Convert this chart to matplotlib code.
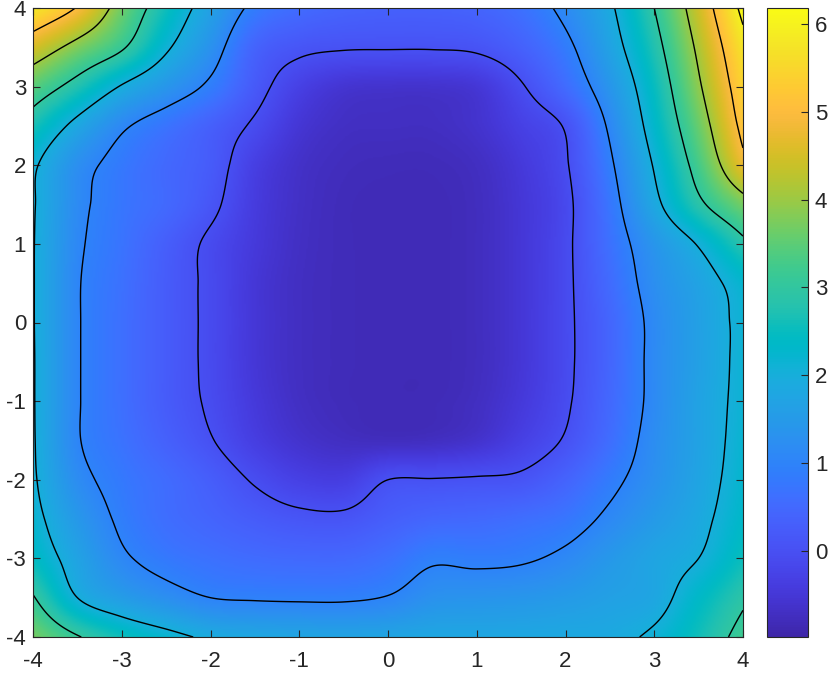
import numpy as np
import matplotlib
matplotlib.use("Agg")
import matplotlib.pyplot as plt
from matplotlib.colors import LinearSegmentedColormap

plt.rcParams['font.family'] = ['Liberation Sans', 'DejaVu Sans']
plt.rcParams['axes.unicode_minus'] = False

# ---- data ----
x_vals = [-4, -3.5, -3, -2.5, -2, -1.5, -1, -0.5, 0, 0.5, 1, 1.5, 2, 2.5, 3, 3.5, 4]
y_vals = [-4, -3.5, -3, -2.5, -2, -1.5, -1, -0.5, 0, 0.5, 1, 1.5, 2, 2.5, 3, 3.5, 4]

z_ym40 = [3.7, 3.05, 2.55, 2.2, 1.9, 1.8, 1.75, 1.72, 1.75, 1.8, 1.8, 1.82, 1.85, 1.88, 2.1, 2.6, 3.2]
z_ym35 = [3.05, 2.0, 1.55, 1.25, 1.0, 0.95, 0.93, 0.93, 1.03, 1.3, 1.35, 1.4, 1.5, 1.65, 1.8, 2.35, 2.9]
z_ym30 = [2.45, 1.7, 1.1, 0.8, 0.65, 0.55, 0.5, 0.5, 0.65, 0.92, 0.88, 0.93, 1.12, 1.45, 1.75, 2.0, 2.55]
z_ym25 = [2.2, 1.45, 0.9, 0.6, 0.42, 0.25, 0.12, 0.1, 0.3, 0.45, 0.5, 0.6, 0.75, 1.12, 1.5, 1.85, 2.35]
z_ym20 = [2.08, 1.2, 0.8, 0.55, 0.28, -0.05, -0.3, -0.35, 0.0, 0.02, 0.05, 0.1, 0.4, 0.85, 1.3, 1.75, 2.25]
z_ym15 = [2.05, 1.05, 0.68, 0.35, 0.03, -0.35, -0.6, -0.72, -0.75, -0.72, -0.6, -0.3, 0.05, 0.6, 1.22, 1.7, 2.2]
z_ym10 = [2.04, 1.05, 0.62, 0.25, -0.07, -0.45, -0.7, -0.8, -0.83, -0.82, -0.72, -0.45, -0.07, 0.5, 1.15, 1.7, 2.15]
z_ym05 = [2.04, 1.05, 0.62, 0.25, -0.1, -0.5, -0.72, -0.8, -0.83, -0.83, -0.75, -0.5, -0.1, 0.45, 1.15, 1.65, 2.15]
z_y00 = [2.03, 1.05, 0.62, 0.25, -0.1, -0.5, -0.72, -0.8, -0.83, -0.83, -0.75, -0.5, -0.1, 0.45, 1.15, 1.65, 2.15]
z_y05 = [2.03, 1.05, 0.65, 0.25, -0.1, -0.5, -0.72, -0.8, -0.83, -0.83, -0.75, -0.5, -0.1, 0.55, 1.25, 1.72, 2.25]
z_y10 = [2.03, 1.1, 0.7, 0.3, -0.09, -0.45, -0.7, -0.8, -0.83, -0.83, -0.75, -0.5, -0.1, 0.65, 1.4, 2.05, 2.85]
z_y15 = [2.05, 1.16, 0.75, 0.5, 0.12, -0.4, -0.68, -0.8, -0.83, -0.83, -0.75, -0.5, -0.12, 0.75, 1.82, 2.85, 3.7]
z_y20 = [2.1, 1.25, 0.8, 0.5, 0.23, -0.33, -0.65, -0.77, -0.8, -0.8, -0.72, -0.45, -0.05, 0.9, 2.05, 3.28, 4.75]
z_y25 = [2.65, 1.8, 1.1, 0.7, 0.33, -0.08, -0.52, -0.7, -0.72, -0.72, -0.6, -0.3, 0.05, 1.1, 2.3, 3.6, 5.2]
z_y30 = [3.45, 2.73, 1.95, 1.4, 0.88, 0.2, -0.3, -0.55, -0.6, -0.6, -0.5, -0.05, 0.55, 1.4, 2.5, 3.9, 5.45]
z_y35 = [4.5, 3.75, 3.08, 2.1, 1.3, 0.4, 0.12, 0.04, 0.03, 0.03, 0.08, 0.35, 0.85, 1.7, 2.75, 4.15, 5.75]
z_y40 = [5.8, 4.95, 3.65, 2.55, 1.65, 0.85, 0.55, 0.4, 0.35, 0.35, 0.42, 0.65, 1.17, 1.9, 3.0, 4.45, 6.2]

contour_levels = [0, 1, 2, 3, 4, 5, 6]
tick_vals = [-4, -3, -2, -1, 0, 1, 2, 3, 4]
cbar_ticks = [0, 1, 2, 3, 4, 5, 6]
clim = (-0.98, 6.18)

# ---- parula colormap ----
parula_data = [
    [0.2422, 0.1504, 0.6603], [0.2504, 0.1650, 0.7076], [0.2578, 0.1818, 0.7511],
    [0.2647, 0.1978, 0.7952], [0.2706, 0.2147, 0.8364], [0.2751, 0.2342, 0.8710],
    [0.2783, 0.2559, 0.8991], [0.2803, 0.2782, 0.9221], [0.2813, 0.3006, 0.9414],
    [0.2810, 0.3228, 0.9579], [0.2795, 0.3447, 0.9717], [0.2760, 0.3667, 0.9829],
    [0.2699, 0.3892, 0.9906], [0.2602, 0.4123, 0.9952], [0.2440, 0.4358, 0.9988],
    [0.2206, 0.4603, 0.9973], [0.1963, 0.4847, 0.9892], [0.1834, 0.5074, 0.9798],
    [0.1786, 0.5289, 0.9682], [0.1764, 0.5499, 0.9520], [0.1687, 0.5703, 0.9359],
    [0.1540, 0.5902, 0.9218], [0.1460, 0.6091, 0.9079], [0.1380, 0.6276, 0.8973],
    [0.1248, 0.6459, 0.8883], [0.1113, 0.6635, 0.8763], [0.0952, 0.6798, 0.8598],
    [0.0689, 0.6948, 0.8394], [0.0297, 0.7082, 0.8163], [0.0036, 0.7203, 0.7917],
    [0.0067, 0.7312, 0.7660], [0.0433, 0.7411, 0.7394], [0.0964, 0.7500, 0.7120],
    [0.1408, 0.7584, 0.6842], [0.1717, 0.7670, 0.6554], [0.1938, 0.7758, 0.6251],
    [0.2161, 0.7843, 0.5923], [0.2470, 0.7918, 0.5567], [0.2906, 0.7973, 0.5188],
    [0.3406, 0.8008, 0.4789], [0.3909, 0.8029, 0.4354], [0.4456, 0.8024, 0.3909],
    [0.5044, 0.7993, 0.3480], [0.5616, 0.7942, 0.3045], [0.6174, 0.7876, 0.2612],
    [0.6720, 0.7793, 0.2227], [0.7242, 0.7698, 0.1910], [0.7738, 0.7598, 0.1646],
    [0.8203, 0.7498, 0.1535], [0.8634, 0.7406, 0.1596], [0.9035, 0.7330, 0.1774],
    [0.9393, 0.7288, 0.2100], [0.9728, 0.7298, 0.2394], [0.9956, 0.7434, 0.2371],
    [0.9970, 0.7659, 0.2199], [0.9952, 0.7893, 0.2028], [0.9892, 0.8136, 0.1885],
    [0.9786, 0.8386, 0.1766], [0.9676, 0.8639, 0.1643], [0.9610, 0.8890, 0.1537],
    [0.9597, 0.9135, 0.1423], [0.9628, 0.9373, 0.1265], [0.9691, 0.9606, 0.1064],
    [0.9769, 0.9839, 0.0805]]
parula = LinearSegmentedColormap.from_list('parula', parula_data, N=256)

Z = np.array([z_ym40, z_ym35, z_ym30, z_ym25, z_ym20, z_ym15, z_ym10, z_ym05, z_y00,
              z_y05, z_y10, z_y15, z_y20, z_y25, z_y30, z_y35, z_y40])


def cubic_resample_matrix(coarse, fine):
    """Catmull-Rom resampling weights (display smoothing of the grid)."""
    coarse = np.asarray(coarse, float)
    n = len(coarse)
    h = coarse[1] - coarse[0]
    W = np.zeros((len(fine), n))
    for k, t in enumerate(fine):
        u = (t - coarse[0]) / h
        i = min(int(np.floor(u)), n - 2)
        s = u - i
        w = [(-s**3 + 2*s**2 - s) / 2, (3*s**3 - 5*s**2 + 2) / 2,
             (-3*s**3 + 4*s**2 + s) / 2, (s**3 - s**2) / 2]
        for off, wt in zip((-1, 0, 1, 2), w):
            idx = i + off
            if idx < 0:
                W[k, 0] += 2 * wt
                W[k, 1] -= wt
            elif idx > n - 1:
                W[k, n - 1] += 2 * wt
                W[k, n - 2] -= wt
            else:
                W[k, idx] += wt
    return W


xf = np.linspace(min(x_vals), max(x_vals), 481)
yf = np.linspace(min(y_vals), max(y_vals), 481)
Wx = cubic_resample_matrix(x_vals, xf)
Wy = cubic_resample_matrix(y_vals, yf)
ZF = Wy @ Z @ Wx.T
XF, YF = np.meshgrid(xf, yf)

fig = plt.figure(figsize=(8.30, 6.74), dpi=100)
ax = fig.add_axes([33/830, 37/674, 710/830, 629/674])
cax = fig.add_axes([767/830, 37/674, 41/830, 629/674])

im = ax.imshow(ZF, extent=[xf[0], xf[-1], yf[0], yf[-1]], origin='lower',
               cmap=parula, vmin=clim[0], vmax=clim[1], interpolation='bilinear',
               aspect='auto')
ax.contour(XF, YF, ZF, levels=contour_levels, colors='k', linewidths=1.0)

ax.set_xlim(-4, 4)
ax.set_ylim(-4, 4)
ax.set_xticks(tick_vals)
ax.set_yticks(tick_vals)
ax.set_xticklabels([str(v) for v in tick_vals])
ax.set_yticklabels([str(v) for v in tick_vals])
tc = (0.15, 0.15, 0.15)
ax.tick_params(direction='in', length=5, width=0.8, colors=tc, labelsize=16,
               top=True, right=True)
ax.tick_params(axis='x', pad=10)
ax.tick_params(axis='y', pad=5)
for s in ax.spines.values():
    s.set_color(tc)
    s.set_linewidth(0.8)

cb = fig.colorbar(im, cax=cax, ticks=cbar_ticks)
cb.ax.tick_params(direction='in', length=5, width=0.8, colors=tc, labelsize=16,
                  right=True, left=False, pad=5)
cb.outline.set_edgecolor(tc)
cb.outline.set_linewidth(0.8)

fig.savefig('out.png', dpi=100)
